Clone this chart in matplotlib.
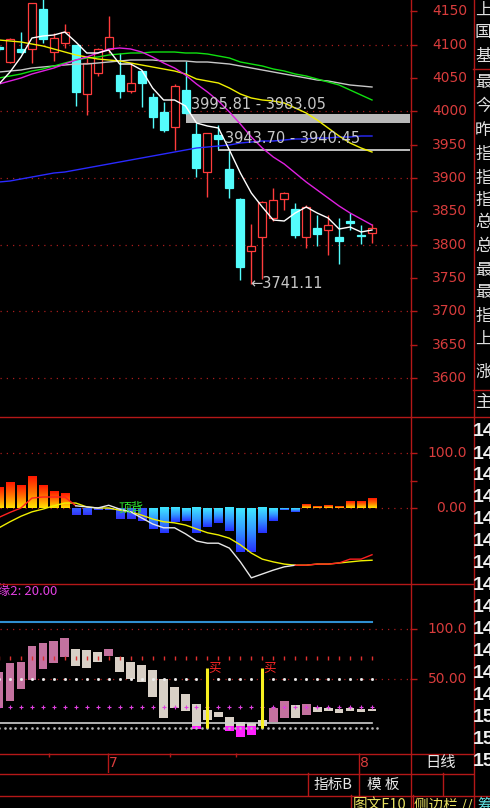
import numpy as np
import matplotlib
matplotlib.use('Agg')
import matplotlib.pyplot as plt
from matplotlib.lines import Line2D
from matplotlib import transforms

# ---------------- data ----------------
days = np.arange(1, 36)

opens = [4096, 4074, 4093.5, 4093.5, 4153.5, 4089, 4102.5, 4099.5, 4026, 4057.5,
         4093.5, 4054.5, 4030.5, 4060.5, 4021.5, 3999, 3976.5, 4032, 3966, 3909,
         3964.5, 3913.5, 3868.5, 3790.5, 3811.5, 3840, 3868.5, 3853.5, 3811.5, 3825,
         3822, 3811.5, 3835.5, 3815, 3817.5]
highs = [4099, 4110, 4119, 4163, 4170, 4117.5, 4131, 4100, 4080, 4095,
         4143, 4087.5, 4072.5, 4062, 4027.5, 4014, 4041, 4075.5, 3983.05, 3968,
         3979.5, 3940.45, 3870, 3831, 3865, 3885, 3879, 3862.5, 3859.5, 3844.5,
         3844.5, 3840, 3847.5, 3829.5, 3831]
lows = [4091, 4072, 4087.5, 4072.5, 4102.5, 4075.5, 4095, 4008, 3994.5, 4053,
        4087.5, 4020, 4028, 4006.5, 3975, 3969, 3942, 3995.81, 3901.5, 3871.5,
        3943.70, 3870, 3747, 3741.11, 3748, 3836, 3852, 3810, 3795, 3798,
        3784.5, 3771, 3822, 3801, 3802.5]
closes = [4094, 4108.5, 4089, 4162.5, 4108.5, 4110, 4119, 4029, 4072.5, 4093.5,
          4111.5, 4030.5, 4042.5, 4042.5, 3991.5, 3972, 4038, 3997.5, 3915, 3967.5,
          3958.5, 3885, 3766.5, 3798, 3864, 3867, 3877.5, 3814.5, 3856.5, 3816,
          3829.5, 3805.5, 3833, 3813, 3825]

ma_white = [4041, 4059, 4081.5, 4110, 4113, 4114.5, 4119, 4104, 4087.5, 4087.5,
            4092, 4071, 4071, 4062, 4035, 4017, 4017, 4008, 3982.5, 3978,
            3975, 3942, 3907.5, 3877.5, 3856.5, 3837, 3835.5, 3847.5, 3856.5, 3847.5,
            3840, 3823.5, 3826.5, 3819, 3822]
ma_yellow = [4107, 4105.5, 4104, 4101, 4098, 4093.5, 4089, 4084.5, 4081.5, 4078.5,
             4077, 4075.5, 4072.5, 4069.5, 4066.5, 4063.5, 4060.5, 4056, 4048.5, 4045.5,
             4042.5, 4035, 4026, 4020, 4017, 4015.5, 4012.5, 4005, 3997.5, 3987,
             3975, 3963, 3952.5, 3945, 3939]
ma_magenta = [4041, 4045.5, 4050, 4056, 4060.5, 4065, 4071, 4077, 4081.5, 4087.5,
              4093.5, 4095, 4093.5, 4089, 4081.5, 4072.5, 4065, 4054.5, 4041, 4029,
              4015.5, 3999, 3981, 3961.5, 3945, 3931.5, 3921, 3907.5, 3894, 3882,
              3870, 3858, 3847.5, 3838.5, 3829.5]
ma_green = [4050, 4053, 4056, 4060.5, 4063.5, 4068, 4072.5, 4077, 4080, 4081.5,
            4084.5, 4086, 4087.5, 4087.5, 4089, 4089, 4089, 4087.5, 4087.5, 4086,
            4083, 4080, 4074, 4071, 4068, 4063.5, 4060.5, 4056, 4053, 4048.5,
            4044, 4039.5, 4032, 4024.5, 4017]
ma_grey = [4059, 4060.5, 4062, 4065, 4066.5, 4068, 4069.5, 4071, 4071, 4072.5,
           4074, 4075.5, 4077, 4077, 4077, 4075.5, 4075.5, 4075.5, 4074, 4074,
           4072.5, 4071, 4068, 4065, 4062, 4059, 4056, 4053, 4050, 4047,
           4045.5, 4042.5, 4039.5, 4038, 4036.5]
ma_blue = [3894, 3895.5, 3898.5, 3901.5, 3904.5, 3907.5, 3909, 3912, 3915, 3918,
           3921, 3924, 3927, 3930, 3933, 3936, 3939, 3942, 3945, 3946.5,
           3948, 3949.5, 3952.5, 3954, 3955.5, 3955.5, 3957, 3958.5, 3958.5, 3960,
           3960, 3961.5, 3961.5, 3963, 3963]

# price gaps: (start day, lower, upper)
gaps = [(18, 3983.05, 3995.81), (21, 3940.45, 3943.70)]
price_ticks = list(range(3600, 4151, 50))

# indicator 1
osc_bars = [38, 46, 41, 58, 41, 30, 26, -12, -12, -4, -3, -20, -20, -23, -38, -46, -26, -23,
            -46, -34, -27, -42, -80, -80, -46, -23, -3, -7, 6, 3, 5, 3, 11, 11, 17]
osc_fast = [-17, -8, 0, 18, 20, 20, 20, 4, 2, 0, 5, -2, -7, -18, -29, -36, -36, -47,
            -60, -64, -64, -73, -98, -127, -120, -113, -107, -104, -104, -102, -102, -100,
            -93, -93, -85]
osc_slow = [-36, -25, -15, -7, -2, 4, 9, 9, 2, 0, 0, -4, -7, -13, -20, -25, -27, -31,
            -38, -45, -49, -55, -67, -82, -93, -98, -102, -104, -104, -102, -102, -100,
            -98, -96, -95]

# indicator 2
k_open = [20, 27, 39, 49, 60, 66, 72, 80, 79, 77, 73, 72, 67, 64, 59, 50, 41, 34,
          24, 18, 16, 11, 6, 5, 8, 6, 10, 23, 13, 21, 20, 19, 20, 19, 19]
k_close = [57, 66, 67, 83, 86, 88, 91, 63, 61, 67, 80, 57, 50, 46, 31, 10, 20, 17,
           -1, 8, 11, -3, -9, -7, 2, 20, 27, 10, 24, 16, 17, 15, 17, 16, 17]
buy_days = [20, 25]
buy_level = 61
blue_level = 107
grey_level = 5
dot_levels = [71, 50, 21, 0]

month_marks = [(10.9, '7'), (33.8, '8')]
side_chars = ['上', '国', '基', '最', '今', '昨', '指', '指', '指', '总', '总',
              '最', '最', '指', '上', '涨', '主']
side_rows = [10, 33, 57, 82, 106, 130, 154, 178, 200, 223, 247, 270, 293, 316, 339, 372, 403]
side_nums = ['14'] * 13 + ['15'] * 3

# ---------------- look ----------------
RED = '#ff3c3c'
CYAN = '#54fcfc'
FRAME = '#b41818'
LABEL = '#d83c3c'
DOT = '#a81c1c'
GREYTXT = '#c8c8c8'
CJK = ['Noto Sans CJK SC', 'DejaVu Sans']

W, H = 490, 808
X0 = 2 - 10 / 10.97
X1 = X0 + 410 / 10.97

fig = plt.figure(figsize=(W / 100, H / 100), dpi=100, facecolor='black')


def panel(top, bottom):
    ax = fig.add_axes([0, 1 - bottom / H, 410 / W, (bottom - top) / H])
    ax.set_facecolor('black')
    for s in ax.spines.values():
        s.set_visible(False)
    ax.set_xlim(X0, X1)
    ax.tick_params(axis='x', bottom=False, labelbottom=False)
    ax.yaxis.tick_right()
    ax.tick_params(axis='y', length=5, width=1, color=FRAME, direction='out',
                   labelright=False)
    return ax


def right_labels(ax, values, texts):
    tr = transforms.blended_transform_factory(fig.transFigure, ax.transData)
    for v, t in zip(values, texts):
        ax.text(467 / W, v, t, transform=tr, ha='right', va='center',
                color=LABEL, fontsize=10)


def dotted(ax, v):
    ax.axhline(v, color=DOT, lw=0.9, ls=(0, (1, 4)), zorder=0)


def gradient(top, mid, bottom, n=24):
    # column of colours running top -> mid -> bottom
    t = np.linspace(0, 1, n)
    cols = [np.interp(t, [0, 0.5, 1], [top[k], mid[k], bottom[k]]) for k in range(3)]
    return np.stack(cols, axis=-1)[:, None, :]


# ---------------- main price panel ----------------
ax = panel(0, 417)
ax.set_ylim(3541.5, 4167)
ax.set_yticks(price_ticks)
right_labels(ax, price_ticks, [str(p) for p in price_ticks])
for v in range(3600, 4101, 100):
    dotted(ax, v)

o = np.array(opens)
c = np.array(closes)
up = c >= o
cols = [RED if u else CYAN for u in up]
ax.vlines(days, lows, highs, colors=cols, lw=1, zorder=2)
ax.bar(days, np.maximum(np.abs(c - o), 1.3), bottom=np.minimum(o, c), width=0.73,
       color=['black' if u else CYAN for u in up], edgecolor=cols, linewidth=0.9,
       zorder=3)

for g0, lo, hi in gaps:
    ax.fill_between([g0, X1], lo, hi, color='#b8b8b8', lw=0, zorder=1)

for vals, col in [(ma_blue, '#2a2aff'), (ma_grey, '#c8c8c8'), (ma_green, '#10e010'),
                  (ma_yellow, '#f0f000'), (ma_magenta, '#e020e0'),
                  (ma_white, '#ffffff')]:
    ax.plot(days, vals, color=col, lw=1, zorder=4)

ax.text(18.5, gaps[0][2] + 14, '%.2f - %.2f' % (gaps[0][2], gaps[0][1]),
        color=GREYTXT, fontsize=10.5, va='center', ha='left', zorder=5)
ax.text(21.6, gaps[1][2] + 16, '%.2f - %.2f' % (gaps[1][2], gaps[1][1]),
        color=GREYTXT, fontsize=10.5, va='center', ha='left', zorder=5)
lo_i = int(np.argmin(lows))
ax.text(days[lo_i] - 0.1, lows[lo_i], '\u2190%.2f' % lows[lo_i], color=GREYTXT,
        fontsize=10.5, va='center', ha='left', zorder=5)

# ---------------- indicator 1 ----------------
a1 = panel(417, 583)
a1.set_yticks([0, 50, 100])
right_labels(a1, [100, 0], ['100.0', '0.00'])
dotted(a1, 100)
dotted(a1, 0)

warm = gradient((1.0, 0.1, 0.0), (1.0, 0.45, 0.0), (1.0, 0.88, 0.0))
deep_blue = gradient((0.2, 0.35, 1.0), (0.2, 0.3, 1.0), (0.2, 0.2, 0.95))
cool = gradient((0.25, 0.9, 1.0), (0.2, 0.6, 1.0), (0.15, 0.2, 1.0))
bw = 0.73
for d, v in zip(days, osc_bars):
    if v > 0:
        img = warm
    elif 8 <= d <= 14:
        img = deep_blue
    else:
        img = cool
    a1.imshow(img, extent=(d - bw / 2, d + bw / 2, min(0, v), max(0, v)),
              aspect='auto', interpolation='bilinear', zorder=2)
a1.set_xlim(X0, X1)
a1.set_ylim(-136.4, 165.5)

a1.plot(days, osc_slow, color='#f0f000', lw=1, zorder=3)
a1.plot(days[:8], osc_fast[:8], color='#ff2020', lw=1, zorder=4)
a1.plot(days[7:28], osc_fast[7:28], color='#e8e8e8', lw=1, zorder=4)
a1.plot(days[27:], osc_fast[27:], color='#ff2020', lw=1, zorder=4)
a1.text(13, 0, '顶背', color='#30e030', fontsize=9, ha='center', va='center',
        family=CJK, zorder=5)

# ---------------- indicator 2 ----------------
a2 = panel(583, 753)
a2.set_ylim(-25.5, 146.9)
a2.set_yticks([50, 100])
right_labels(a2, [100, 50], ['100.0', '50.00'])
dotted(a2, 100)
dotted(a2, 50)

ko = np.array(k_open)
kc = np.array(k_close)
k_up = kc > ko
a2.bar(days, np.abs(kc - ko), bottom=np.minimum(ko, kc), width=0.8,
       color=['#c4729f' if u else '#d8d0c6' for u in k_up], zorder=2)
low_part = np.minimum(ko, kc)
a2.bar(days, np.clip(2 - low_part, 0, None), bottom=low_part, width=0.8,
       color='#ff20ff', zorder=2)

a2.plot([X0, days[-1]], [blue_level, blue_level], color='#2f8fd0', lw=1.5, zorder=3)
a2.plot([X0, days[-1]], [grey_level, grey_level], color='#d0d0d0', lw=1.2, zorder=3)
a2.plot(days, np.full(len(days), dot_levels[0]), ls='none', marker='|', ms=2.5,
        mew=1, color='#e03030', zorder=4)
a2.plot(days, np.full(len(days), dot_levels[1]), ls='none', marker='s', ms=1,
        color='#f0f0f0', zorder=4)
a2.plot(days, np.full(len(days), dot_levels[2]), ls='none', marker='+', ms=2.5,
        mew=0.8, color='#e040e0', zorder=4)
half = np.arange(1, 35.6, 0.5)
a2.plot(half, np.full(len(half), dot_levels[3]), ls='none', marker='s', ms=0.8,
        color='#b8b8b8', zorder=4)
a2.vlines(buy_days, 0, buy_level, color='#f8f020', lw=2.2, zorder=5)
for d in buy_days:
    a2.text(d + 0.05, buy_level, '买', color='#ff2828', fontsize=9, ha='left',
            va='center', family=CJK, zorder=6)
a2.text(-3 / W, 0.953, '缘2: 20.00', transform=a2.transAxes, color='#e040e0',
        fontsize=9.5, ha='left', va='center', family=CJK)

# ---------------- date strip ----------------
ad = fig.add_axes([0, 1 - 773 / H, 410 / W, 20 / H])
ad.set_facecolor('black')
ad.axis('off')
ad.set_xlim(X0, X1)
ad.set_ylim(0, 1)
ad.vlines([5.6, 16.6, 22.6], 0.82, 1.0, color=FRAME, lw=1)
for xm, lab in month_marks:
    ad.vlines(xm, 0, 1, color=FRAME, lw=1)
    ad.text(xm + 0.12, 0.5, lab, color=LABEL, fontsize=10, ha='left', va='center')

# ---------------- frame / side panels ----------------
def hline(y, x0, x1):
    fig.add_artist(Line2D([x0 / W, x1 / W], [1 - y / H, 1 - y / H], color=FRAME, lw=1))


def vline(x, y0, y1):
    fig.add_artist(Line2D([x / W, x / W], [1 - y0 / H, 1 - y1 / H], color=FRAME, lw=1))


vline(410.5, 0, 808)
vline(473.5, 0, 808)
hline(417.5, 0, 490)
hline(583.5, 0, 473)
hline(753.5, 0, 473)
hline(773.5, 0, 473)
hline(795.5, 0, 490)
hline(68.5, 473, 490)
hline(389.5, 473, 490)
for xb in [307.5, 358.5, 442.5]:
    vline(xb, 773, 795)
vline(350.5, 795, 808)
vline(412.5, 795, 808)

for ch, yy in zip(side_chars, side_rows):
    fig.text(475 / W, 1 - yy / H, ch, color='#e0e0e0', fontsize=12, family=CJK,
             ha='left', va='center')
for k, num in enumerate(side_nums):
    fig.text(473 / W, 1 - (432 + 22 * k) / H, num, color='#f0f0f0', fontsize=14,
             fontweight='bold', family='Liberation Sans', ha='left', va='center')

fig.text(441 / W, 1 - 763 / H, '日线', color='#e8e8e8', fontsize=11, family=CJK,
         ha='center', va='center')
fig.text(333 / W, 1 - 785 / H, '指标B', color='#e8e8e8', fontsize=10.5, family=CJK,
         ha='center', va='center')
fig.text(383 / W, 1 - 785 / H, '模 板', color='#e8e8e8', fontsize=10.5, family=CJK,
         ha='center', va='center')
fig.text(353 / W, 1 - 805 / H, '图文F10', color='#e8e060', fontsize=10.5, family=CJK,
         ha='left', va='center')
fig.text(414 / W, 1 - 805 / H, '侧边栏 //', color='#e8e060', fontsize=10.5, family=CJK,
         ha='left', va='center')
fig.text(477 / W, 1 - 805 / H, '筹', color='#60e0e0', fontsize=10.5, family=CJK,
         ha='left', va='center')

fig.savefig('out.png', dpi=100, facecolor='black')
